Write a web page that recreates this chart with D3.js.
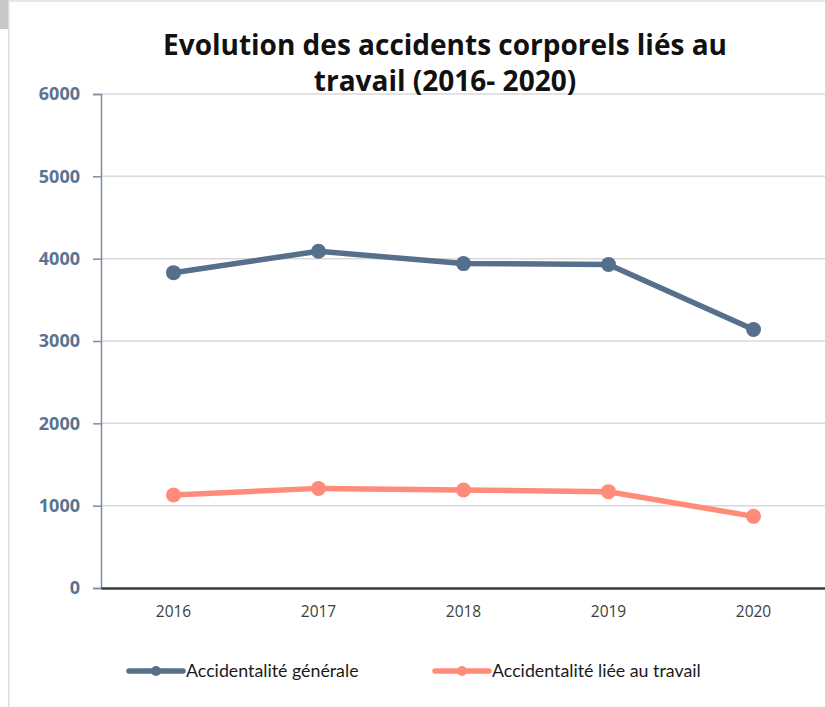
<!DOCTYPE html>
<html><head><meta charset="utf-8">
<script src="https://cdn.jsdelivr.net/npm/d3@7"></script>
<style>html,body{margin:0;padding:0;background:#fff;}svg{display:block;}</style>
</head><body>
<script>
const years = ["2016","2017","2018","2019","2020"];
const generale = [3830, 4090, 3940, 3930, 3140];
const travail = [1130, 1210, 1190, 1170, 870];
const yTicks = [0, 1000, 2000, 3000, 4000, 5000, 6000];
const seriesNames = ["Accidentalité générale", "Accidentalité liée au travail"];
const titleLines = ["Evolution des accidents corporels liés au", "travail (2016- 2020)"];
const colors = ["#566f8c", "#ff8c7a"];

const W = 825, H = 707;
const svg = d3.select("body").append("svg").attr("width", W).attr("height", H);

// frame decorations
svg.append("rect").attr("x",0).attr("y",0).attr("width",8).attr("height",29).attr("fill","#c8c8c8");
svg.append("rect").attr("x",8).attr("y",0).attr("width",1.5).attr("height",H).attr("fill","#dedede");
svg.append("rect").attr("x",9).attr("y",0).attr("width",W-9).attr("height",2).attr("fill","#e6e6e6");

const x = d3.scaleBand().domain(years).range([101, 826]).padding(0);
const y = d3.scaleLinear().domain([0, 6000]).range([588, 94]);

// gridlines
svg.append("g").selectAll("line").data(yTicks.filter(d => d > 0)).join("line")
  .attr("x1", 101).attr("x2", W).attr("y1", d => y(d)).attr("y2", d => y(d))
  .attr("stroke", "#d9d9d9").attr("stroke-width", 1.5);

// y axis
const yAxis = svg.append("g").attr("transform", "translate(101,0)")
  .call(d3.axisLeft(y).tickValues(yTicks).tickSize(8).tickPadding(13).tickFormat(d3.format("d")));
yAxis.select(".domain").attr("stroke", "#7b8fa8").attr("stroke-width", 1.5);
yAxis.selectAll(".tick line").attr("stroke", "#7b8fa8").attr("stroke-width", 1.5);
yAxis.selectAll(".tick text").attr("fill", "#5a7392").attr("font-family", "'Open Sans', sans-serif")
  .attr("font-size", 18).attr("font-weight", "bold");

// x axis
const xAxis = svg.append("g").attr("transform", "translate(0,588)")
  .call(d3.axisBottom(x).tickSize(0).tickPadding(18));
xAxis.select(".domain").attr("stroke", "#3a3a3a").attr("stroke-width", 2.5);
xAxis.selectAll(".tick text").attr("fill", "#3d3d3d").attr("font-family", "'Open Sans', sans-serif")
  .attr("font-size", 15.5);

// series
const allSeries = [generale, travail];
const cx = d => x(d) + x.bandwidth() / 2;
allSeries.forEach((vals, i) => {
  const data = years.map((yr, j) => ({ yr, v: vals[j] }));
  svg.append("path").datum(data)
    .attr("fill", "none").attr("stroke", colors[i]).attr("stroke-width", 5.5)
    .attr("stroke-linejoin", "round")
    .attr("d", d3.line().x(d => cx(d.yr)).y(d => y(d.v)));
  svg.append("g").selectAll("circle").data(data).join("circle")
    .attr("cx", d => cx(d.yr)).attr("cy", d => y(d.v)).attr("r", 7.5).attr("fill", colors[i]);
});

// title
svg.append("text").attr("text-anchor", "middle").attr("font-family", "'Open Sans', sans-serif")
  .attr("font-weight", "bold").attr("font-size", 28).attr("fill", "#111")
  .selectAll("tspan").data(titleLines).join("tspan")
  .attr("x", 445).attr("y", (d, i) => 55 + i * 36).text(d => d);

// legend
const legX = [129, 435];
seriesNames.forEach((name, i) => {
  const g = svg.append("g").attr("transform", `translate(${legX[i]},671)`);
  g.append("line").attr("x1", 0).attr("x2", 54).attr("y1", 0).attr("y2", 0)
    .attr("stroke", colors[i]).attr("stroke-width", 5.5).attr("stroke-linecap", "round");
  g.append("circle").attr("cx", 27).attr("cy", 0).attr("r", 5).attr("fill", colors[i]);
  g.append("text").attr("x", 57).attr("y", 6).attr("font-family", "Lato, sans-serif")
    .attr("font-size", 17.8).attr("fill", "#1a1a1a").text(name);
});
</script>
</body></html>
